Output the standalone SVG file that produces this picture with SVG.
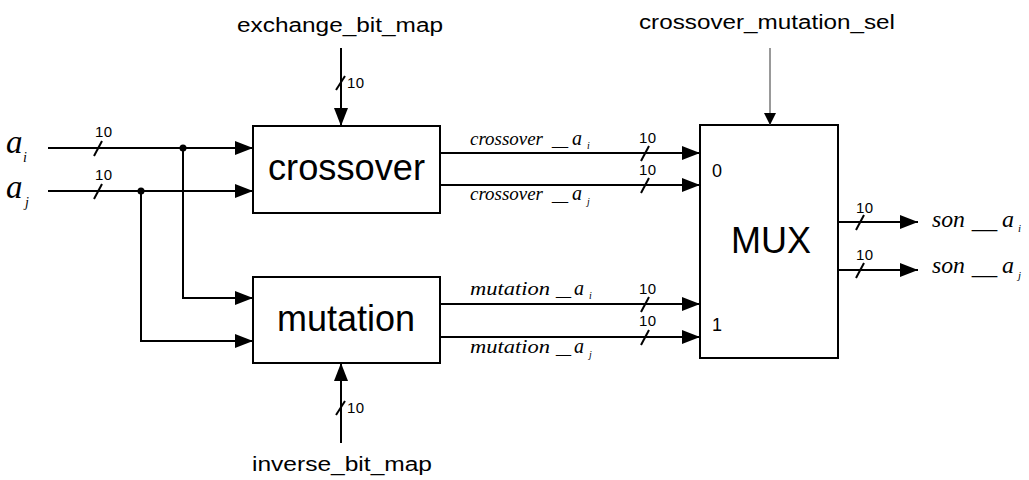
<svg xmlns="http://www.w3.org/2000/svg" width="1029" height="480" viewBox="0 0 1029 480">
  <style>
    .box { fill: #fff; stroke: #000; stroke-width: 2; }
    .wire { fill: none; stroke: #000; stroke-width: 2; }
    .thin { fill: none; stroke: #555; stroke-width: 1.2; }
    .sans { font-family: "Liberation Sans", Arial, sans-serif; fill: #000; }
    .ital { font-family: "Liberation Serif", "Times New Roman", serif; font-style: italic; fill: #000; }
    .bus { font-family: "Liberation Sans", Arial, sans-serif; font-size: 15px; fill: #000; }
    .blk { font-size: 36px; }
    .sig { font-size: 20px; }
  </style>
  <defs>
    <marker id="arr" markerUnits="userSpaceOnUse" markerWidth="20" markerHeight="14" refX="18" refY="7" orient="auto">
      <path d="M0,0 L18,7 L0,14 Z" fill="#000"/>
    </marker>
    <marker id="arrS" markerUnits="userSpaceOnUse" markerWidth="14" markerHeight="12" refX="12" refY="6" orient="auto">
      <path d="M0,0 L12,6 L0,12 Z" fill="#000"/>
    </marker>
  </defs>
  <rect width="1029" height="480" fill="#fff"/>

  <!-- blocks -->
  <g id="crossover">
    <rect class="box" x="253" y="126" width="187" height="87"/>
    <text class="sans blk" x="268" y="180" textLength="157" lengthAdjust="spacingAndGlyphs">crossover</text>
  </g>
  <g id="mutation">
    <rect class="box" x="253" y="277" width="187" height="86"/>
    <text class="sans blk" x="277" y="331" textLength="138" lengthAdjust="spacingAndGlyphs">mutation</text>
  </g>
  <g id="mux">
    <rect class="box" x="700" y="125" width="138" height="233"/>
    <text class="sans blk" x="731" y="253" textLength="80" lengthAdjust="spacingAndGlyphs">MUX</text>
    <text class="sans" x="712" y="177" font-size="18">0</text>
    <text class="sans" x="712" y="331" font-size="18">1</text>
  </g>

  <!-- connectors -->
  <g id="connectors">
    <!-- primary inputs -->
    <line class="wire" x1="48" y1="148" x2="253" y2="148" marker-end="url(#arr)"/>
    <line class="wire" x1="48" y1="191" x2="253" y2="191" marker-end="url(#arr)"/>
    <polyline class="wire" points="183,148 183,298 253,298" marker-end="url(#arr)"/>
    <polyline class="wire" points="141,191 141,341 253,341" marker-end="url(#arr)"/>
    <circle cx="183" cy="148" r="3.5" fill="#000"/>
    <circle cx="141" cy="191" r="3.5" fill="#000"/>

    <!-- block outputs into MUX -->
    <line class="wire" x1="440" y1="153" x2="700" y2="153" marker-end="url(#arr)"/>
    <line class="wire" x1="440" y1="185" x2="700" y2="185" marker-end="url(#arr)"/>
    <line class="wire" x1="440" y1="304" x2="700" y2="304" marker-end="url(#arr)"/>
    <line class="wire" x1="440" y1="337" x2="700" y2="337" marker-end="url(#arr)"/>

    <!-- MUX outputs -->
    <line class="wire" x1="838" y1="222" x2="918" y2="222" marker-end="url(#arr)"/>
    <line class="wire" x1="838" y1="270" x2="918" y2="270" marker-end="url(#arr)"/>

    <!-- control inputs -->
    <line class="wire" x1="341" y1="48" x2="341" y2="126" marker-end="url(#arr)"/>
    <line class="wire" x1="341" y1="443" x2="341" y2="363" marker-end="url(#arr)"/>
    <line class="thin" x1="770" y1="48" x2="770" y2="125" marker-end="url(#arrS)"/>

    <!-- bus width slashes -->
    <g class="wire">
      <line x1="94" y1="156" x2="102" y2="141"/>
      <line x1="94" y1="199" x2="102" y2="184"/>
      <line x1="641" y1="161" x2="649" y2="146"/>
      <line x1="641" y1="193" x2="649" y2="178"/>
      <line x1="641" y1="312" x2="649" y2="297"/>
      <line x1="641" y1="345" x2="649" y2="330"/>
      <line x1="856" y1="230" x2="864" y2="215"/>
      <line x1="856" y1="278" x2="864" y2="263"/>
      <line x1="336" y1="90" x2="345" y2="76"/>
      <line x1="336" y1="415" x2="345" y2="401"/>
    </g>
  </g>

  <!-- bus widths -->
  <g id="bus-widths">
    <text class="bus" x="95" y="137" textLength="17">10</text>
    <text class="bus" x="95" y="180" textLength="17">10</text>
    <text class="bus" x="639" y="143" textLength="17">10</text>
    <text class="bus" x="639" y="175" textLength="17">10</text>
    <text class="bus" x="639" y="294" textLength="17">10</text>
    <text class="bus" x="639" y="326" textLength="17">10</text>
    <text class="bus" x="856" y="213" textLength="17">10</text>
    <text class="bus" x="856" y="260" textLength="17">10</text>
    <text class="bus" x="347" y="88" textLength="17">10</text>
    <text class="bus" x="347" y="413" textLength="17">10</text>
  </g>

  <!-- signal names -->
  <g id="labels">
    <text class="sans sig" x="237" y="32" textLength="206" lengthAdjust="spacingAndGlyphs">exchange_bit_map</text>
    <text class="sans sig" x="252" y="471" textLength="180" lengthAdjust="spacingAndGlyphs">inverse_bit_map</text>
    <text class="sans sig" x="639" y="29" textLength="256" lengthAdjust="spacingAndGlyphs">crossover_mutation_sel</text>

    <!-- input operands -->
    <text class="ital" x="6" y="153" font-size="33">a</text>
    <text class="ital" x="23" y="162" font-size="14">i</text>
    <text class="ital" x="6" y="198" font-size="33">a</text>
    <text class="ital" x="25" y="207" font-size="14">j</text>

    <!-- crossover outputs -->
    <text class="ital" x="470" y="145" font-size="18" textLength="73" lengthAdjust="spacingAndGlyphs">crossover</text>
    <text class="ital" x="552" y="146" font-size="18" textLength="16" lengthAdjust="spacingAndGlyphs">_</text>
    <text class="ital" x="572" y="145" font-size="20">a</text>
    <text class="ital" x="587" y="149" font-size="10">i</text>

    <text class="ital" x="470" y="200" font-size="18" textLength="73" lengthAdjust="spacingAndGlyphs">crossover</text>
    <text class="ital" x="552" y="201" font-size="18" textLength="16" lengthAdjust="spacingAndGlyphs">_</text>
    <text class="ital" x="572" y="200" font-size="20">a</text>
    <text class="ital" x="587" y="205" font-size="10">j</text>

    <!-- mutation outputs -->
    <text class="ital" x="470" y="295" font-size="18" textLength="80" lengthAdjust="spacingAndGlyphs">mutation</text>
    <text class="ital" x="556" y="296" font-size="18" textLength="15" lengthAdjust="spacingAndGlyphs">_</text>
    <text class="ital" x="574" y="295" font-size="20">a</text>
    <text class="ital" x="589" y="299" font-size="10">i</text>

    <text class="ital" x="470" y="353" font-size="18" textLength="80" lengthAdjust="spacingAndGlyphs">mutation</text>
    <text class="ital" x="556" y="354" font-size="18" textLength="15" lengthAdjust="spacingAndGlyphs">_</text>
    <text class="ital" x="574" y="353" font-size="20">a</text>
    <text class="ital" x="589" y="358" font-size="10">j</text>

    <!-- MUX outputs -->
    <text class="ital" x="932" y="227" font-size="23" textLength="33" lengthAdjust="spacingAndGlyphs">son</text>
    <text class="ital" x="972" y="228" font-size="23" textLength="25" lengthAdjust="spacingAndGlyphs">_</text>
    <text class="ital" x="1002" y="227" font-size="24">a</text>
    <text class="ital" x="1018" y="232" font-size="11">i</text>

    <text class="ital" x="932" y="273" font-size="23" textLength="33" lengthAdjust="spacingAndGlyphs">son</text>
    <text class="ital" x="972" y="274" font-size="23" textLength="25" lengthAdjust="spacingAndGlyphs">_</text>
    <text class="ital" x="1002" y="273" font-size="24">a</text>
    <text class="ital" x="1018" y="279" font-size="11">j</text>
  </g>
</svg>
